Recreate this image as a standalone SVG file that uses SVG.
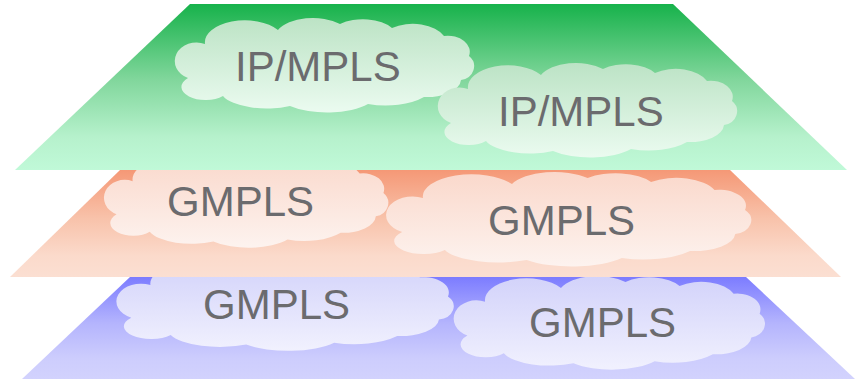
<svg xmlns="http://www.w3.org/2000/svg" width="856" height="381" viewBox="0 0 856 381">
  <defs>
    <!-- plane fills: saturated at the back edge, pale at the front -->
    <linearGradient id="gPlaneGreen" x1="0" y1="0" x2="0" y2="1">
      <stop offset="0" stop-color="#17b24b"/>
      <stop offset="0.45" stop-color="#80d69b"/>
      <stop offset="0.8" stop-color="#b6f1cc"/>
      <stop offset="1" stop-color="#c0f9d8"/>
    </linearGradient>
    <linearGradient id="gPlaneOrange" x1="0" y1="0" x2="0" y2="1">
      <stop offset="0" stop-color="#f59876"/>
      <stop offset="0.45" stop-color="#f8c2aa"/>
      <stop offset="0.8" stop-color="#fbdacb"/>
      <stop offset="1" stop-color="#fbdfd2"/>
    </linearGradient>
    <linearGradient id="gPlaneBlue" x1="0" y1="0" x2="0" y2="1">
      <stop offset="0" stop-color="#7c7cff"/>
      <stop offset="0.45" stop-color="#b4b4fd"/>
      <stop offset="0.8" stop-color="#cdcdfd"/>
      <stop offset="1" stop-color="#d2d2fd"/>
    </linearGradient>
    <!-- cloud fills -->
    <linearGradient id="gCloudGreen" x1="0" y1="0" x2="0" y2="1">
      <stop offset="0" stop-color="#bce3c5"/>
      <stop offset="1" stop-color="#ebfbf0"/>
    </linearGradient>
    <linearGradient id="gCloudOrange" x1="0" y1="0" x2="0" y2="1">
      <stop offset="0" stop-color="#fad8cb"/>
      <stop offset="1" stop-color="#fdf3ef"/>
    </linearGradient>
    <linearGradient id="gCloudBlue" x1="0" y1="0" x2="0" y2="1">
      <stop offset="0" stop-color="#d2d2fa"/>
      <stop offset="1" stop-color="#f1f1fe"/>
    </linearGradient>
    <!-- cloud outline in a 300 x 94 box -->
    <path id="cloud" d="M27,24 A40,22 0 0 1 100,10 A38,20 0 0 1 162,4 A34,18 0 0 1 214,8 A34,20 0 0 1 266,16 A22,16 0 0 1 291,36 A16,14 0 0 1 283,60 A34,18 0 0 1 246,77 A50,24 0 0 1 190,84 A50,20 0 0 1 112,86 A46,18 0 0 1 45,76 A22,12 0 0 1 10,58 A20,17 0 0 1 27,24 Z"/>
    <style>
      .label { font-family: "Liberation Sans", Arial, sans-serif; font-size: 42px; fill: #6b6b6e; }
      .cg { fill: url(#gCloudGreen); }
      .co { fill: url(#gCloudOrange); }
      .cb { fill: url(#gCloudBlue); }
    </style>
  </defs>

  <!-- bottom plane -->
  <g id="plane-gmpls-bottom">
    <path d="M130,277 L746,277 L855,379 L22,379 Z" fill="url(#gPlaneBlue)"/>
  </g>
  <g id="cloud-b1">
    <use href="#cloud" class="cb" transform="translate(120,262) scale(1.127,0.96)"/>
    <text class="label" x="203" y="319">GMPLS</text>
  </g>
  <g id="cloud-b2">
    <use href="#cloud" class="cb" transform="translate(457,278) scale(1.04,0.99)"/>
    <text class="label" x="529" y="337">GMPLS</text>
  </g>

  <!-- middle plane -->
  <g id="plane-gmpls-middle">
    <path d="M120,170 L730,170 L841,277 L10,277 Z" fill="url(#gPlaneOrange)"/>
  </g>
  <g id="cloud-o1">
    <use href="#cloud" class="co" transform="translate(107,158) scale(0.95,0.97)"/>
    <text class="label" x="167" y="216">GMPLS</text>
  </g>
  <g id="cloud-o2">
    <use href="#cloud" class="co" transform="translate(390,174) scale(1.22,1.0)"/>
    <text class="label" x="488" y="235">GMPLS</text>
  </g>

  <!-- top plane -->
  <g id="plane-ip-mpls">
    <path d="M190,4 L673,4 L847,170 L15,170 Z" fill="url(#gPlaneGreen)"/>
  </g>
  <g id="cloud-g1">
    <use href="#cloud" class="cg" transform="translate(178,20)"/>
    <text class="label" x="235" y="81">IP/MPLS</text>
  </g>
  <g id="cloud-g2">
    <use href="#cloud" class="cg" transform="translate(441,65)"/>
    <text class="label" x="498" y="126">IP/MPLS</text>
  </g>
</svg>
